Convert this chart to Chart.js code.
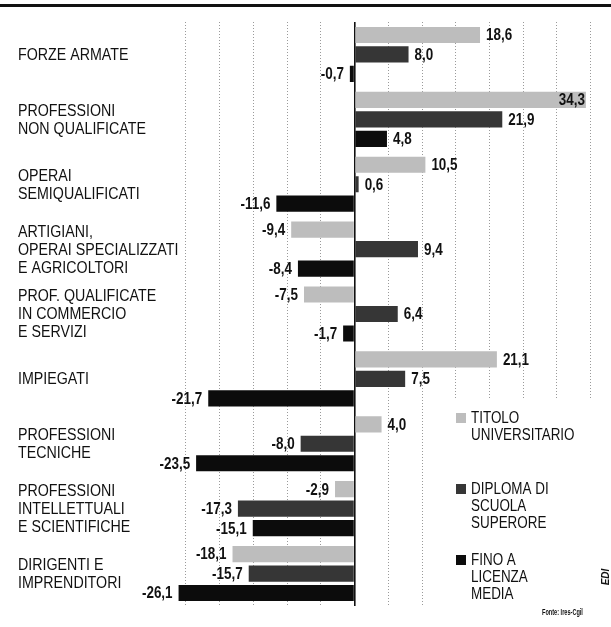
<!DOCTYPE html>
<html lang="it">
<head>
<meta charset="UTF-8">
<title>Occupazione per titolo di studio</title>
<script src="https://cdn.jsdelivr.net/npm/chart.js"></script>
<style>
  html, body { margin: 0; padding: 0; background: #fff; }
  #wrap { position: relative; width: 611px; height: 627px; }
  #rule { position: absolute; left: 0; top: 4px; width: 611px; height: 3px; background: #111; }
</style>
</head>
<body>
<div id="wrap">
  <div id="rule"></div>
  <canvas id="chart"></canvas>
</div>
<script>
const categories = [
  ['FORZE ARMATE'],
  ['PROFESSIONI', 'NON QUALIFICATE'],
  ['OPERAI', 'SEMIQUALIFICATI'],
  ['ARTIGIANI,', 'OPERAI SPECIALIZZATI', 'E AGRICOLTORI'],
  ['PROF. QUALIFICATE', 'IN COMMERCIO', 'E SERVIZI'],
  ['IMPIEGATI'],
  ['PROFESSIONI', 'TECNICHE'],
  ['PROFESSIONI', 'INTELLETTUALI', 'E SCIENTIFICHE'],
  ['DIRIGENTI E', 'IMPRENDITORI']
];
const seriesNames = [
  ['TITOLO', 'UNIVERSITARIO'],
  ['DIPLOMA DI', 'SCUOLA', 'SUPERORE'],
  ['FINO A', 'LICENZA', 'MEDIA']
];
const titoloUniversitario = [18.6, 34.3, 10.5, -9.4, -7.5, 21.1, 4.0, -2.9, -18.1];
const diplomaSuperiore    = [8.0, 21.9, 0.6, 9.4, 6.4, 7.5, -8.0, -17.3, -15.7];
const licenzaMedia        = [-0.7, 4.8, -11.6, -8.4, -1.7, -21.7, -23.5, -15.1, -26.1];
const seriesColors = ['#bdbdbd', '#363636', '#0c0c0c'];

const FONT = '"Liberation Sans", Arial, sans-serif';
const SQUEEZE = 0.84; // condensed newspaper type

function narrowText(ctx, txt, x, y, align, sq) {
  ctx.save();
  ctx.translate(x, y);
  ctx.scale(sq || SQUEEZE, 1);
  ctx.textAlign = align;
  ctx.fillText(txt, 0, 0);
  ctx.restore();
}

// category names on the left, drawn squeezed
const categoryNames = {
  id: 'categoryNames',
  afterDraw(chart) {
    const ctx = chart.ctx;
    const y = chart.scales.y;
    ctx.save();
    ctx.font = '16px ' + FONT;
    ctx.fillStyle = '#111';
    ctx.textBaseline = 'middle';
    categories.forEach((lines, i) => {
      const cy = y.getPixelForValue(i);
      const top = cy - (lines.length - 1) * 18 / 2;
      lines.forEach((ln, j) => narrowText(ctx, ln, 18, top + j * 18 + 1, 'left', 0.89));
    });
    ctx.restore();
  }
};

// value labels next to each bar, italian decimal comma
const valueLabels = {
  id: 'valueLabels',
  afterDatasetsDraw(chart) {
    const ctx = chart.ctx;
    ctx.save();
    ctx.font = 'bold 16px ' + FONT;
    ctx.fillStyle = '#111';
    ctx.textBaseline = 'middle';
    chart.data.datasets.forEach((ds, di) => {
      chart.getDatasetMeta(di).data.forEach((bar, i) => {
        const v = ds.data[i];
        const txt = v.toFixed(1).replace('.', ',');
        const w = ctx.measureText(txt).width * SQUEEZE;
        if (v >= 0) {
          if (bar.x + 6 + w > chart.width - 6) narrowText(ctx, txt, bar.x - 1, bar.y + 1, 'right');
          else narrowText(ctx, txt, bar.x + 6, bar.y + 1, 'left');
        } else {
          narrowText(ctx, txt, bar.x - 6, bar.y + 1, 'right');
        }
      });
    });
    ctx.restore();
  }
};

// legend box in the lower right of the plot, plus source notes
const sideNotes = {
  id: 'sideNotes',
  afterDatasetsDraw(chart) {
    const ctx = chart.ctx;
    ctx.save();
    ctx.fillStyle = '#fff';
    ctx.fillRect(446, 398, 160, 210);
    ctx.font = '16px ' + FONT;
    ctx.textBaseline = 'middle';
    const starts = [418, 489, 560];
    seriesNames.forEach((lines, k) => {
      ctx.fillStyle = seriesColors[k];
      ctx.fillRect(456, starts[k] - 5, 10, 10);
      ctx.fillStyle = '#111';
      lines.forEach((ln, j) => narrowText(ctx, ln, 471, starts[k] + 1 + j * 17, 'left'));
    });

    ctx.font = 'bold 9px ' + FONT;
    ctx.save();
    ctx.translate(542, 613);
    ctx.scale(0.62, 1);
    ctx.fillText('Fonte: Ires-Cgil', 0, 0);
    ctx.restore();

    ctx.save();
    ctx.translate(606, 577);
    ctx.rotate(-Math.PI / 2);
    ctx.font = 'italic bold 10px ' + FONT;
    ctx.textAlign = 'center';
    ctx.fillText('EDI', 0, 0);
    ctx.restore();
    ctx.restore();
  }
};

new Chart(document.getElementById('chart').getContext('2d'), {
  type: 'bar',
  data: {
    labels: categories.map(c => c.join(' ')),
    datasets: [
      { label: seriesNames[0].join(' '), data: titoloUniversitario, backgroundColor: seriesColors[0] },
      { label: seriesNames[1].join(' '), data: diplomaSuperiore, backgroundColor: seriesColors[1] },
      { label: seriesNames[2].join(' '), data: licenzaMedia, backgroundColor: seriesColors[2] }
    ]
  },
  options: {
    indexAxis: 'y',
    responsive: true,
    maintainAspectRatio: false,
    animation: false,
    layout: { padding: { left: 18, right: 17, top: 22, bottom: 21 } },
    datasets: { bar: { categoryPercentage: 0.9, barPercentage: 0.83 } },
    plugins: { legend: { display: false }, tooltip: { enabled: false } },
    scales: {
      x: {
        min: -27,
        max: 35.5,
        ticks: { display: false, stepSize: 5, includeBounds: false },
        grid: {
          drawTicks: false,
          color: c => c.tick && c.tick.value === 0 ? '#111' : '#9a9a9a',
          lineWidth: c => c.tick && c.tick.value === 0 ? 1.6 : 1
        },
        border: {
          display: false,
          dash: c => c.tick && c.tick.value === 0 ? [] : [1, 2]
        },
        afterFit: s => { s.height = 0; }
      },
      y: {
        grid: { display: false },
        border: { display: false },
        ticks: { display: false },
        afterFit: s => { s.width = 154.5; }
      }
    }
  },
  plugins: [valueLabels, sideNotes, categoryNames]
});
</script>
</body>
</html>
